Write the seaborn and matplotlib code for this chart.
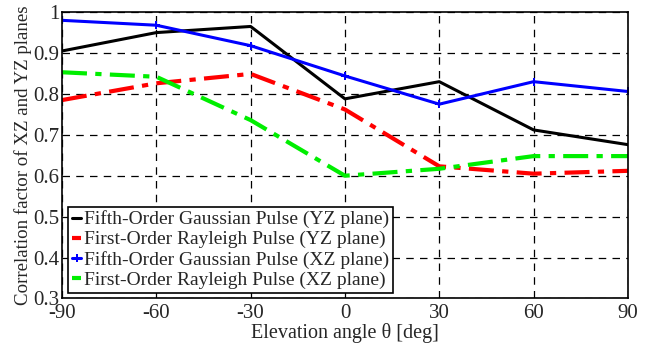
import numpy as np
import pandas as pd
import matplotlib
matplotlib.use('Agg')
import matplotlib.pyplot as plt
import seaborn as sns

# elevation angles and correlation factors
angles = [-90, -60, -30, 0, 30, 60, 90]
gauss_yz = [0.905, 0.950, 0.965, 0.788, 0.830, 0.712, 0.676]
rayleigh_yz = [0.785, 0.826, 0.849, 0.762, 0.623, 0.605, 0.612]
gauss_xz = [0.980, 0.968, 0.918, 0.844, 0.775, 0.830, 0.806]
rayleigh_xz = [0.853, 0.842, 0.736, 0.600, 0.617, 0.648, 0.648]

labels = ['Fifth-Order Gaussian Pulse (YZ plane)',
          'First-Order Rayleigh Pulse (YZ plane)',
          'Fifth-Order Gaussian Pulse (XZ plane)',
          'First-Order Rayleigh Pulse (XZ plane)']

df = pd.DataFrame({'angle': angles * 4,
                   'corr': gauss_yz + rayleigh_yz + gauss_xz + rayleigh_xz,
                   'series': np.repeat(labels, len(angles))})

sns.set_style('white')
plt.rcParams['font.family'] = ['Liberation Serif', 'DejaVu Serif']

fig = plt.figure(figsize=(6.49, 3.47), dpi=100)
ax = fig.add_axes([0.0955, 0.14, 0.872, 0.825])

colors = ['black', 'red', 'blue', '#00ee00']
styles = ['-', (0, (6, 2, 1.5, 2)), '-', (0, (6, 2, 1.5, 2))]
widths = [2.2, 3.0, 2.2, 3.0]
markers = [None, None, 'P', None]

for lab, c, ls, lw, m in zip(labels, colors, styles, widths, markers):
    sub = df[df['series'] == lab]
    sns.lineplot(data=sub, x='angle', y='corr', ax=ax, color=c, linestyle=ls,
                 linewidth=lw, marker=m, markersize=6, markeredgewidth=0,
                 label=lab)

ax.set_xlim(-90, 90)
ax.set_ylim(0.3, 1.0)
ax.set_xticks(angles)
ax.set_xticklabels([str(a) for a in angles])
ax.set_yticks([0.3, 0.4, 0.5, 0.6, 0.7, 0.8, 0.9, 1.0])
ax.set_yticklabels(['0.3', '0.4', '0.5', '0.6', '0.7', '0.8', '0.9', '1'])
ax.tick_params(labelsize=15, direction='in', length=4, pad=2)
ax.tick_params(axis='x', pad=4)
ax.grid(True, color='black', linestyle=(0, (6, 5)), linewidth=0.9)
for s in ax.spines.values():
    s.set_color('black')
    s.set_linewidth(1.2)

ax.set_xlabel('Elevation angle θ [deg]', fontsize=14.5, labelpad=0)
ax.set_ylabel('Correlation factor of XZ and YZ planes', fontsize=13.6, labelpad=1)

leg = ax.legend(loc='lower left', fontsize=14, frameon=True, fancybox=False,
                handlelength=0.5, handletextpad=0.15, borderpad=0.2,
                labelspacing=0.12, borderaxespad=0.3)
leg.get_frame().set_edgecolor('black')
leg.get_frame().set_linewidth(1.2)
leg.get_frame().set_alpha(1)

fig.savefig('out.png', dpi=100)
